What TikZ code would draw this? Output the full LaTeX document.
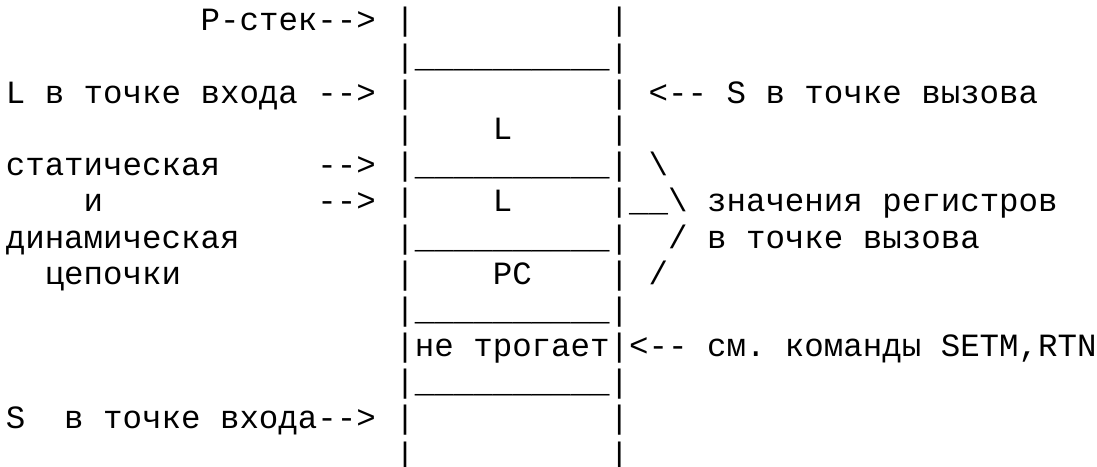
\documentclass[tikz,border=0pt]{standalone}
\usepackage{fontspec}
\setmonofont{Liberation Mono}
\usepackage{tikz}
\frenchspacing
\newcommand\shelf{\_\_\_\_\_\_\_\_\_\_}

\begin{document}
\begin{tikzpicture}[x=9.74pt, y=-18.085pt,
        txt/.style={anchor=base west, inner sep=0pt,
            font=\ttfamily\fontsize{16.23}{18}\selectfont}]

    \useasboundingbox (0pt,0pt) rectangle (548.5pt,-233pt);

    \begin{scope}[shift={(2.7pt,-15.5pt)}]
    % P-stack frame
    \node[txt] (pstack) at (10,0) {P-стек-->};
    \node[txt] (w0l) at (20,0) {|};
    \node[txt] (w0r) at (31,0) {|};
    \node[txt] (s1) at (20,1) {|\shelf|};

    % L and S at entry / call
    \node[txt] (lentry) at (0,2) {L в точке входа -->};
    \node[txt] (w2l) at (20,2) {|};
    \node[txt] (w2r) at (31,2) {|};
    \node[txt] (scall) at (33,2) {<-- S в точке вызова};
    \node[txt] (w3l) at (20,3) {|};
    \node[txt] (lone) at (25,3) {L};
    \node[txt] (w3r) at (31,3) {|};

    % chains
    \node[txt] (chainA) at (0,4) {статическая};
    \node[txt] (arrA) at (16,4) {-->};
    \node[txt] (s4) at (20,4) {|\shelf|};
    \node[txt] (brA) at (33,4) {\textbackslash};
    \node[txt] (chainB) at (4,5) {и};
    \node[txt] (arrB) at (16,5) {-->};
    \node[txt] (w5l) at (20,5) {|};
    \node[txt] (ltwo) at (25,5) {L};
    \node[txt] (w5r) at (31,5) {|\_\_\textbackslash};
    \node[txt] (regsA) at (36,5) {значения регистров};
    \node[txt] (chainC) at (0,6) {динамическая};
    \node[txt] (s6) at (20,6) {|\shelf|};
    \node[txt] (brC) at (34,6) {/};
    \node[txt] (regsB) at (36,6) {в точке вызова};
    \node[txt] (chainD) at (2,7) {цепочки};
    \node[txt] (w7l) at (20,7) {|};
    \node[txt] (pc) at (25,7) {PC};
    \node[txt] (w7r) at (31,7) {|};
    \node[txt] (brD) at (33,7) {/};

    % untouched cell
    \node[txt] (s8) at (20,8) {|\shelf|};
    \node[txt] (w9l) at (20,9) {|};
    \node[txt] (keep) at (21,9) {не трогает};
    \node[txt] (w9r) at (31,9) {|};
    \node[txt] (setm) at (32,9) {<-- см. команды SETM,RTN};
    \node[txt] (s10) at (20,10) {|\shelf|};

    % S at entry
    \node[txt] (sentry) at (0,11) {S\ \ в точке входа-->};
    \node[txt] (w11l) at (20,11) {|};
    \node[txt] (w11r) at (31,11) {|};
    \node[txt] (w12l) at (20,12) {|};
    \node[txt] (w12r) at (31,12) {|};
    \end{scope}

\end{tikzpicture}
\end{document}
